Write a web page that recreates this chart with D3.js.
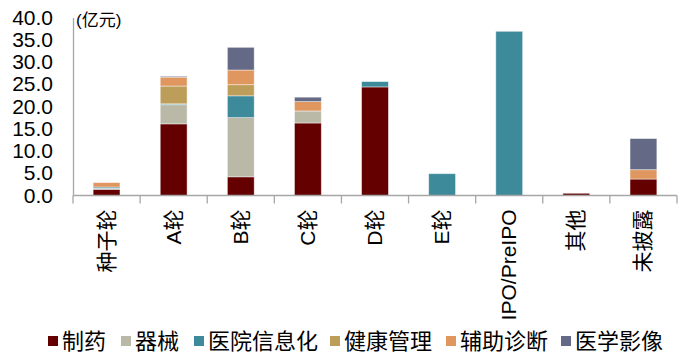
<!DOCTYPE html>
<html><head><meta charset="utf-8">
<script src="https://cdn.jsdelivr.net/npm/d3@7"></script>
<style>
body{margin:0;background:#fff;}
text{font-family:"Liberation Sans",Arial,"Noto Sans CJK SC",sans-serif;fill:#000;}
</style></head>
<body><svg id="c" width="684" height="361"></svg>
<script>
const categories = ['种子轮','A轮','B轮','C轮','D轮','E轮','IPO/PreIPO','其他','未披露'];
const seriesNames = ['制药','器械','医院信息化','健康管理','辅助诊断','医学影像'];
const pharma   = [1.4,16.1,4.2,16.3,24.4,0,0,0.5,3.7];
const device   = [0.2,4.3,13.3,2.7,0,0,0,0,0];
const hospIT   = [0.3,0.2,4.9,0,1.2,4.9,36.9,0,0];
const health   = [0,4.0,2.5,0,0,0,0,0,0];
const diag     = [1.0,2.0,3.3,2.1,0,0,0,0,2.1];
const imaging  = [0,0.2,5.1,1.0,0,0,0,0,7.0];
const yTicks = [0,5,10,15,20,25,30,35,40];
const colors = ['#640000','#BAB9A7','#3D8A9B','#BD9D5A','#E0975F','#646A85'];
const unitLabel = '(亿元)';

const seriesValues = [pharma, device, hospIT, health, diag, imaging];
const rows = categories.map((c,i)=>{const r={cat:c}; seriesNames.forEach((s,j)=>r[s]=seriesValues[j][i]); return r;});
const stack = d3.stack().keys(seriesNames)(rows);

const svg = d3.select('#c');
const mLeft=73, mRight=677, mTop=17.5, mBottom=195.5;
const x = d3.scaleBand().domain(categories).range([mLeft,mRight]).paddingInner(0.6).paddingOuter(0.3);
const y = d3.scaleLinear().domain([0,40]).range([mBottom,mTop]);

// bars
svg.append('g').selectAll('g').data(stack).join('g')
  .attr('fill',(d,i)=>colors[i])
  .selectAll('rect').data(d=>d.filter(p=>p[1]-p[0]>0)).join('rect')
  .attr('x',d=>x(d.data.cat)).attr('width',x.bandwidth())
  .attr('y',d=>y(d[1])).attr('height',d=>y(d[0])-y(d[1]))
  .attr('stroke','rgba(255,255,255,0.55)').attr('stroke-width',0.8);

// y axis
const yAxis = svg.append('g').attr('transform',`translate(${mLeft},0)`)
  .call(d3.axisLeft(y).tickValues(yTicks).tickSize(0).tickPadding(20).tickFormat(d3.format('.1f')));
yAxis.select('.domain').attr('stroke','#a6a6a6').attr('stroke-width',1.3);
yAxis.selectAll('text').attr('font-size',21).attr('fill','#000').attr('font-family','"Liberation Sans",Arial,sans-serif');

// x axis
const step = x.step();
const xAxis = svg.append('g').attr('transform',`translate(0,${mBottom})`);
xAxis.append('line').attr('x1',mLeft).attr('x2',mRight).attr('stroke','#a6a6a6').attr('stroke-width',1.3);
xAxis.selectAll('line.tk').data(d3.range(categories.length+1)).join('line').attr('class','tk')
  .attr('x1',i=>mLeft+i*step).attr('x2',i=>mLeft+i*step).attr('y1',0).attr('y2',8)
  .attr('stroke','#a6a6a6').attr('stroke-width',1.3);
xAxis.selectAll('text.cl').data(categories).join('text').attr('class','cl')
  .attr('transform',d=>`translate(${x(d)+x.bandwidth()/2+7},14) rotate(-90)`)
  .attr('text-anchor','end').attr('font-size',21).text(d=>d);

// unit label
svg.append('text').attr('x',76).attr('y',26).attr('font-size',17).text(unitLabel);

// legend
const legendX = [48,121,194,330,446,561];
const lg = svg.append('g').selectAll('g').data(seriesNames).join('g')
  .attr('transform',(d,i)=>`translate(${legendX[i]},341)`);
lg.append('rect').attr('x',0).attr('y',-5).attr('width',10).attr('height',10).attr('fill',(d,i)=>colors[i]);
lg.append('text').attr('x',14).attr('y',8).attr('font-size',22).text(d=>d);
</script></body></html>
